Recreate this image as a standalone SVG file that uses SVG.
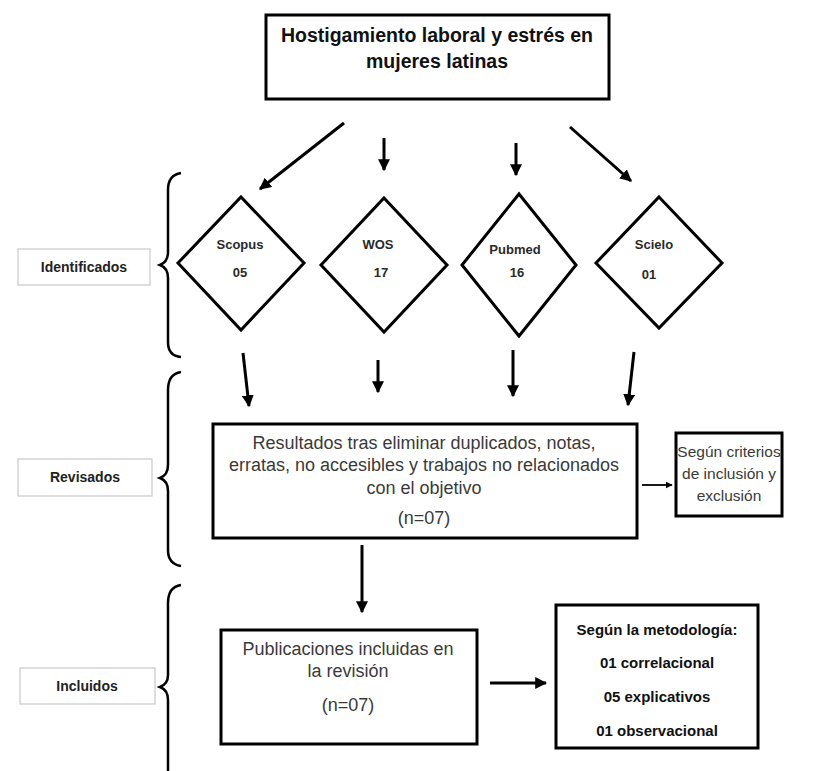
<svg xmlns="http://www.w3.org/2000/svg" width="816" height="771" viewBox="0 0 816 771">
<defs>
<marker id="ah" viewBox="0 0 10 10" refX="9" refY="5" markerWidth="4" markerHeight="4" orient="auto" markerUnits="strokeWidth">
<path d="M0,0 L10,5 L0,10 z" fill="#000"/>
</marker>
<style>
.box{fill:#fff;stroke:#000;stroke-width:3}
.side{fill:#fff;stroke:#c8c8c8;stroke-width:1.2}
.dia{fill:#fff;stroke:#000;stroke-width:3}
.brace{fill:none;stroke:#000;stroke-width:2.5}
.arr{stroke:#000;stroke-width:3;fill:none;marker-end:url(#ah)}
.t{font-family:"Liberation Sans",Arial,sans-serif;text-anchor:middle}
.title{font-size:19.5px;font-weight:bold;fill:#111}
.lab{font-size:13px;font-weight:bold;fill:#2a2a2a}
.sl{font-size:14px;font-weight:bold;fill:#222}
.body{font-size:18px;fill:#3a3a3a}
.body2{font-size:15.5px;fill:#3a3a3a}
.bb{font-size:15px;font-weight:bold;fill:#111}
</style>
</defs>
<rect width="816" height="771" fill="#fff"/>

<g id="top">
<rect class="box" x="266" y="15" width="343" height="84"/>
<text class="t title" x="437" y="42">Hostigamiento laboral y estrés en</text>
<text class="t title" x="437" y="68">mujeres latinas</text>
</g>

<g id="identificados">
<path class="brace" d="M181,173 Q168,175 168,190 L168,252 Q168,262 160,265 Q168,268 168,278 L168,342 Q168,356 181,357"/>
<rect class="side" x="18" y="249" width="132" height="36"/>
<text class="t sl" x="84" y="272">Identificados</text>
</g>
<g id="revisados">
<path class="brace" d="M181,372 Q168,374 168,390 L168,465 Q168,475 160,478 Q168,481 168,491 L168,550 Q168,564 181,566"/>
<rect class="side" x="18" y="459" width="134" height="37"/>
<text class="t sl" x="85" y="482">Revisados</text>
</g>
<g id="incluidos">
<path class="brace" d="M181,585 Q168,587 168,603 L168,675 Q168,684 160,687 Q168,690 168,700 L168,771"/>
<rect class="side" x="20" y="668" width="135" height="36"/>
<text class="t sl" x="87" y="691">Incluidos</text>
</g>

<g id="scopus">
<polygon class="dia" points="241,197 304,263 241,330 178,263"/>
<text class="t lab" x="240" y="249">Scopus</text>
<text class="t lab" x="240" y="277">05</text>
</g>
<g id="wos">
<polygon class="dia" points="384,198 447,265 384,332 321,265"/>
<text class="t lab" x="378" y="249">WOS</text>
<text class="t lab" x="381" y="277">17</text>
</g>
<g id="pubmed">
<polygon class="dia" points="519,194 576,265 519,336 462,265"/>
<text class="t lab" x="515" y="254">Pubmed</text>
<text class="t lab" x="517" y="277">16</text>
</g>
<g id="scielo">
<polygon class="dia" points="659,197 722,263 659,328 596,263"/>
<text class="t lab" x="654" y="249">Scielo</text>
<text class="t lab" x="649" y="279">01</text>
</g>

<g id="resultados">
<rect class="box" x="213" y="424" width="424" height="114"/>
<text class="t body" x="424" y="449">Resultados tras eliminar duplicados, notas,</text>
<text class="t body" x="424" y="471">erratas, no accesibles y trabajos no relacionados</text>
<text class="t body" x="424" y="494">con el objetivo</text>
<text class="t body" x="424" y="524">(n=07)</text>
</g>
<g id="criterios">
<rect class="box" x="676" y="433" width="106" height="83"/>
<text class="t body2" x="729" y="457">Según criterios</text>
<text class="t body2" x="729" y="479">de inclusión y</text>
<text class="t body2" x="729" y="501">exclusión</text>
</g>
<g id="publicaciones">
<rect class="box" x="221" y="630" width="256" height="114"/>
<text class="t body" x="348" y="655">Publicaciones incluidas en</text>
<text class="t body" x="348" y="677">la revisión</text>
<text class="t body" x="348" y="711">(n=07)</text>
</g>
<g id="metodologia">
<rect class="box" x="556" y="605" width="202" height="143"/>
<text class="t bb" x="657" y="635">Según la metodología:</text>
<text class="t bb" x="657" y="668">01 correlacional</text>
<text class="t bb" x="657" y="702">05 explicativos</text>
<text class="t bb" x="657" y="736">01 observacional</text>
</g>

<g id="connectors">
<line class="arr" x1="344" y1="123" x2="260" y2="189"/>
<line class="arr" x1="384" y1="138" x2="384" y2="170"/>
<line class="arr" x1="516" y1="143" x2="516" y2="175"/>
<line class="arr" x1="570" y1="127" x2="631" y2="181"/>
<line class="arr" x1="243" y1="353" x2="249" y2="406"/>
<line class="arr" x1="378" y1="360" x2="378" y2="392"/>
<line class="arr" x1="513" y1="350" x2="513" y2="396"/>
<line class="arr" x1="634" y1="352" x2="628" y2="405"/>
<line class="arr" style="stroke-width:1.8" x1="642" y1="485" x2="672" y2="485"/>
<line class="arr" x1="362" y1="545" x2="362" y2="612"/>
<line class="arr" x1="490" y1="683" x2="546" y2="683"/>
</g>
</svg>
